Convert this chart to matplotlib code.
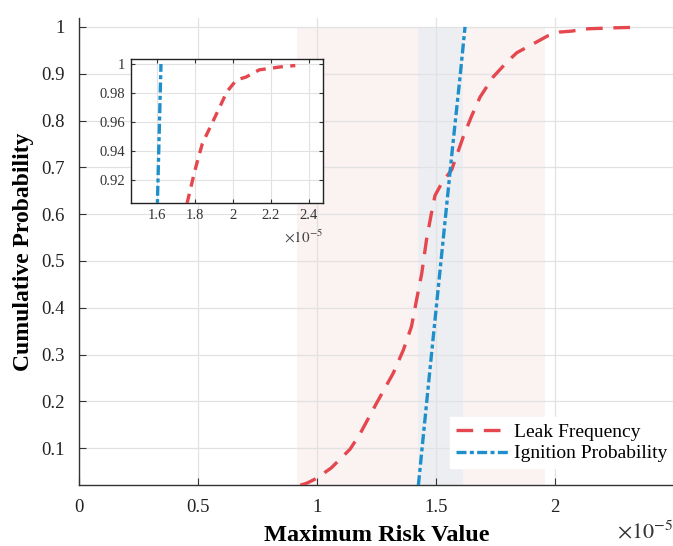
import matplotlib
matplotlib.use("Agg")
import matplotlib.pyplot as plt
from matplotlib.ticker import FuncFormatter

plt.rcParams['font.family'] = ['Liberation Serif', 'DejaVu Serif']
plt.rcParams['mathtext.fontset'] = 'stix'

# values in units of 1e-5
leak_x = [0.93, 0.956, 1.0, 1.027, 1.06, 1.09, 1.139, 1.18, 1.25, 1.32, 1.363, 1.397, 1.418, 1.44,
          1.46, 1.48, 1.496, 1.524, 1.566, 1.615, 1.65, 1.685, 1.74, 1.80, 1.84, 1.88,
          1.92, 1.97, 2.02, 2.07, 2.14, 2.25, 2.33]
leak_y = [0.021, 0.025, 0.036, 0.046, 0.058, 0.073, 0.098, 0.13, 0.196, 0.26, 0.31, 0.36, 0.416, 0.473,
          0.545, 0.60, 0.64, 0.666, 0.695, 0.766, 0.81, 0.85, 0.893, 0.926, 0.945, 0.956,
          0.967, 0.981, 0.989, 0.991, 0.996, 0.998, 0.999]
ign_x = [1.426, 1.47, 1.52, 1.57, 1.603, 1.622]
ign_y = [0.021, 0.245, 0.495, 0.745, 0.903, 1.0]
leak_band = (0.916, 1.958)
ign_band = (1.424, 1.613)

xticks = [0, 0.5, 1, 1.5, 2, 2.5]
yticks = [0.1, 0.2, 0.3, 0.4, 0.5, 0.6, 0.7, 0.8, 0.9, 1.0]
inset_xticks = [1.6, 1.8, 2.0, 2.2, 2.4]
inset_yticks = [0.92, 0.94, 0.96, 0.98, 1.0]

red = '#E5474E'
blue = '#1E8FCB'

W, H = 673, 546
fig = plt.figure(figsize=(W/100, H/100), dpi=100)
ax = fig.add_axes([79/W, (H-485)/H, 595/W, 467/H])
ax.set_xlim(0, 2.5)
ax.set_ylim(0.0214, 1.019)

ax.fill_between(leak_band, 0.0214, 1.0, color='#FBF2F2', lw=0, zorder=0)
ax.fill_between(ign_band, 0.0214, 1.0, color='#EDEEF2', lw=0, zorder=0.5)

ax.plot(leak_x, leak_y, color=red, lw=2.4, dashes=(5, 3.2), label='Leak Frequency', zorder=3)
ax.plot(ign_x, ign_y, color=blue, lw=2.4, dashes=(3, 1, 1.2, 1), label='Ignition Probability', zorder=3)

ax.set_xticks(xticks)
ax.set_yticks(yticks)
fmt = FuncFormatter(lambda v, p: '%g' % round(v, 4))
ax.xaxis.set_major_formatter(FuncFormatter(lambda v, p: '' if v > 2.4 else '%g' % v))
ax.yaxis.set_major_formatter(fmt)
ax.grid(True, color='#E2E2E2', lw=0.9)
ax.set_axisbelow(True)
for s in ['top', 'right']:
    ax.spines[s].set_visible(False)
for s in ['left', 'bottom']:
    ax.spines[s].set_color('#333333')
    ax.spines[s].set_linewidth(1.0)
ax.tick_params(direction='in', length=5, labelsize=13.5, colors='#333333', labelcolor='#222222', pad=10)
ax.set_xlabel('Maximum Risk Value', fontsize=17.5, fontweight='bold')
ax.xaxis.set_label_coords(0.5, -0.108)
ax.xaxis.label.set_va('center')
ax.set_ylabel('Cumulative Probability', fontsize=17, fontweight='bold')
ax.yaxis.set_label_coords(-0.0756, 0.5)
ax.text(0.999, -0.10, r'$\times 10^{-5}$', transform=ax.transAxes, ha='right', va='center',
        fontsize=16, color='#333333')

leg = ax.legend(loc='lower right', bbox_to_anchor=(0.999, 0.036), fontsize=14, frameon=True,
                fancybox=False, edgecolor='white', framealpha=1.0, handlelength=2.7,
                handletextpad=0.3, borderpad=0.3, labelspacing=0.2, borderaxespad=0)

# inset
ia = fig.add_axes([131/W, (H-203)/H, 192/W, 144/H])
ia.set_xlim(1.464, 2.476)
ia.set_ylim(0.9039, 1.0035)
ia.plot(leak_x, leak_y, color=red, lw=2.4, dashes=(3, 2.2), zorder=3)
ia.plot(ign_x, ign_y, color=blue, lw=2.4, dashes=(3, 1, 1.2, 1), zorder=3)
ia.set_xticks(inset_xticks)
ia.set_yticks(inset_yticks)
ia.xaxis.set_major_formatter(fmt)
ia.yaxis.set_major_formatter(fmt)
ia.grid(True, color='#E2E2E2', lw=0.8)
ia.set_axisbelow(True)
for s in ia.spines.values():
    s.set_color('#222222')
    s.set_linewidth(1.0)
ia.tick_params(direction='in', length=3, labelsize=10.5, colors='#333333', labelcolor='#333333',
               top=True, right=True, pad=4)
ia.text(1.0, -0.24, r'$\times 10^{-5}$', transform=ia.transAxes, ha='right', va='center',
        fontsize=11, color='#444444')

fig.savefig('out.png', dpi=100)
